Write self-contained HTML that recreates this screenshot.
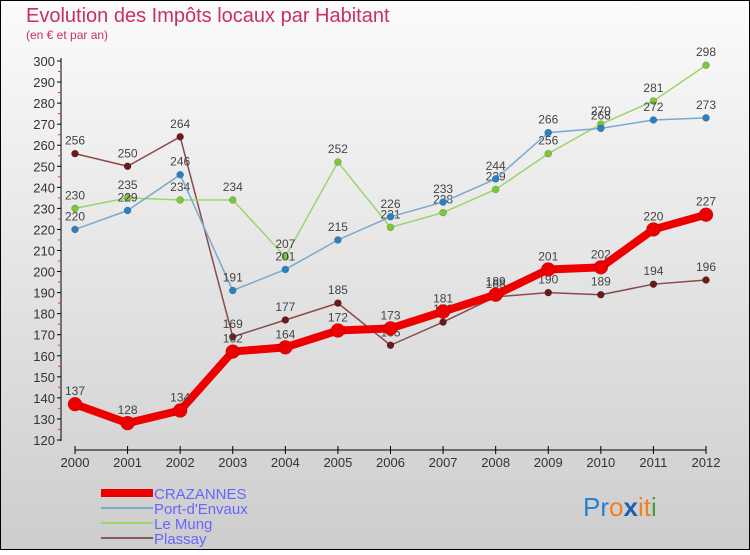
<!DOCTYPE html>
<html><head><meta charset="utf-8"><style>
body{margin:0}
#c{width:750px;height:550px;position:relative;font-family:"Liberation Sans",sans-serif;}
</style></head><body>
<div id="c">
<svg id="s" width="750" height="550" xmlns="http://www.w3.org/2000/svg">
<defs><linearGradient id="bg" x1="0" y1="0" x2="0" y2="1"><stop offset="0" stop-color="#fbfbfb"/><stop offset="1" stop-color="#cdcdcd"/></linearGradient></defs>
<rect x="0.5" y="0.5" width="749" height="549" fill="url(#bg)" stroke="#000"/>
<text x="26" y="22" font-size="20" fill="#c8305e">Evolution des Impôts locaux par Habitant</text>
<text x="26" y="39" font-size="12" fill="#c8305e">(en € et par an)</text>
<g id="axes"></g><g id="series"></g>
<g>
<rect x="101" y="489" width="52" height="8" fill="#e00"/>
<text x="154" y="499" font-size="15" fill="#66f">CRAZANNES</text>
<rect x="101" y="507" width="52" height="2" fill="#7aa9cc"/>
<text x="154" y="514" font-size="15" fill="#66f">Port-d'Envaux</text>
<rect x="101" y="522" width="52" height="2" fill="#9cd46c"/>
<text x="154" y="529" font-size="15" fill="#66f">Le Mung</text>
<rect x="101" y="537" width="52" height="2" fill="#8a5a5a"/>
<text x="154" y="544" font-size="15" fill="#66f">Plassay</text>
</g>
<text x="583" y="516" font-size="26" font-family="Liberation Sans"><tspan fill="#2a7fd0">Pr</tspan><tspan fill="#f08020">o</tspan><tspan fill="#1a5fb0" font-weight="bold">x</tspan><tspan fill="#f08020">it</tspan><tspan fill="#40a040">i</tspan></text>
</svg></div>
<script>
const years=[2000,2001,2002,2003,2004,2005,2006,2007,2008,2009,2010,2011,2012];
const crazannes=[137,128,134,162,164,172,173,181,189,201,202,220,227];
const portEnvaux=[220,229,246,191,201,215,226,233,244,266,268,272,273];
const leMung=[230,235,234,234,207,252,221,228,239,256,270,281,298];
const plassay=[256,250,264,169,177,185,165,176,188,190,189,194,196];
const yTicks=[120,130,140,150,160,170,180,190,200,210,220,230,240,250,260,270,280,290,300];
const NS="http://www.w3.org/2000/svg";
const x=i=>75+i*(706-75)/12;
const y=v=>440-(v-120)*(440-61)/180;
function mk(t,a,p){const e=document.createElementNS(NS,t);for(const k in a)e.setAttribute(k,a[k]);p.appendChild(e);return e;}
const ax=document.getElementById('axes');
const yl=mk('line',{x1:61,y1:58,x2:61,y2:441,stroke:'#000'},ax);


yTicks.forEach(v=>{
 mk('line',{x1:57,y1:y(v),x2:61,y2:y(v),stroke:'#000'},ax);
 if(v<300){const m=mk('line',{x1:58,y1:y(v+5),x2:61,y2:y(v+5),stroke:'#e33'},ax);}
 const t=mk('text',{x:55,y:y(v)+5,'font-size':13,fill:'#333','text-anchor':'end'},ax);
 
 
 t.textContent=v;
});
const xl=mk('line',{x1:75,y1:450,x2:706,y2:450,stroke:'#000'},ax);


years.forEach((yr,i)=>{
 mk('line',{x1:x(i),y1:446,x2:x(i),y2:454,stroke:'#000'},ax);
 const t=mk('text',{x:x(i),y:467,'font-size':13,fill:'#333','text-anchor':'middle'},ax);
 
 
 t.textContent=yr;
});
const sg=document.getElementById('series');
function draw(data,name,color,dot,w,r){
 const g=mk('g',{},sg);
 
 
 const pl=mk('polyline',{points:data.map((v,i)=>x(i)+','+y(v)).join(' '),fill:'none',stroke:color,'stroke-width':w,'stroke-linejoin':'round'},g);
 
 
 data.forEach((v,i)=>{
  const c=mk('circle',{cx:x(i),cy:y(v),r:r,fill:dot,stroke:'rgba(0,0,0,0.3)','stroke-width':0.5},g);
  
  
  const t=mk('text',{x:x(i),y:y(v)-9,'font-size':12,fill:'#444','text-anchor':'middle'},g);
  
  
  t.textContent=v;
 });
}
draw(plassay,'plassay','#8a4a4a','#6a1a1a',1.5,3.5);
draw(leMung,'le-mung','#9cd46c','#7ac83a',1.5,3.5);
draw(portEnvaux,'port-d-envaux','#7aa9cc','#2a80c0',1.5,3.5);
draw(crazannes,'crazannes','#ee0000','#ee0000',8,7);
</script>
</body></html>
